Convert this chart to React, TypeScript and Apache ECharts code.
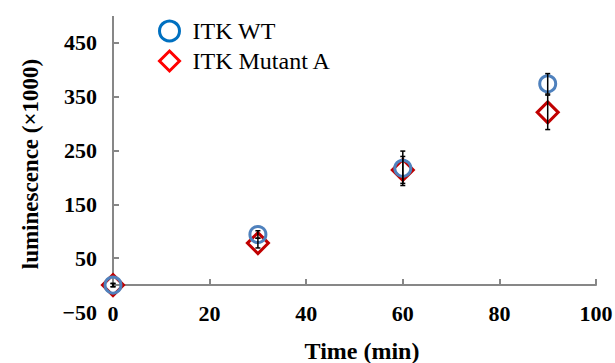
import React, { useEffect, useRef } from "react";
import * as echarts from "echarts";

const timeMin = [0, 30, 60, 90];
const wtMean = [0, 94, 217, 374];
const wtErr = [3, 7, 32, 19];
const mutMean = [0, 78, 214, 321];
const mutErr = [3, 9, 25, 32];
const yLabelValues = [-50, 50, 150, 250, 350, 450];
const yTickValues = [50, 150, 250, 350, 450];
const seriesNames = ["ITK WT", "ITK Mutant A"];

const AXIS = "#878787";
const FONT = "'Liberation Serif', 'Times New Roman', serif";

export default function App() {
  const ref = useRef<HTMLDivElement>(null);
  useEffect(() => {
    document.body.style.margin = "0";
    const chart = echarts.init(ref.current!, null, { renderer: "svg" });
    const wtData = timeMin.map((t, i) => [t, wtMean[i]]);
    const mutData = timeMin.map((t, i) => [t, mutMean[i]]);
    const errData = [
      ...timeMin.map((t, i) => [t, wtMean[i] - wtErr[i], wtMean[i] + wtErr[i]]),
      ...timeMin.map((t, i) => [t, mutMean[i] - mutErr[i], mutMean[i] + mutErr[i]]),
    ];
    chart.setOption({
      animation: false,
      textStyle: { fontFamily: FONT },
      grid: { left: 113, right: 19, top: 16, bottom: 51, containLabel: false, outerBoundsMode: "none" },
      legend: {
        orient: "vertical",
        left: 153,
        top: 14,
        itemWidth: 20,
        itemHeight: 20,
        itemGap: 6,
        textStyle: { fontFamily: FONT, fontSize: 24, color: "#000", padding: [0, 0, 0, 8] },
        data: [
          {
            name: seriesNames[0],
            icon: "circle",
            itemStyle: { color: "#fff", borderColor: "#0070C0", borderWidth: 3 },
          },
          {
            name: seriesNames[1],
            icon: "diamond",
            itemStyle: { color: "#fff", borderColor: "#FF0000", borderWidth: 3 },
          },
        ],
      },
      xAxis: {
        type: "value",
        min: 0,
        max: 100,
        interval: 20,
        name: "Time (min)",
        nameLocation: "middle",
        nameGap: 27,
        nameTextStyle: { fontFamily: FONT, fontSize: 24, fontWeight: "bold", color: "#000", padding: [0, 0, 0, 15] },
        axisLine: { onZero: true, lineStyle: { color: AXIS, width: 2 } },
        axisTick: { inside: true, length: 6, lineStyle: { color: AXIS, width: 2 } },
        axisLabel: { margin: -10, fontFamily: FONT, fontSize: 22, fontWeight: "bold", color: "#000" },
        splitLine: { show: false },
      },
      yAxis: {
        type: "value",
        min: -50,
        max: 500,
        name: "luminescence (×1000)",
        nameLocation: "middle",
        nameGap: 71,
        nameTextStyle: { fontFamily: FONT, fontSize: 23, fontWeight: "bold", color: "#000" },
        axisLine: { show: false },
        axisTick: { show: true, inside: true, length: 6, customValues: yTickValues, lineStyle: { color: AXIS, width: 2 } },
        axisLabel: {
          margin: 16,
          customValues: yLabelValues,
          fontFamily: FONT,
          fontSize: 22,
          fontWeight: "bold",
          color: "#000",
          formatter: (v: number) => (v < 0 ? "\u2212" + Math.abs(v) : String(v)),
        },
        splitLine: { show: false },
      },
      series: [
        {
          name: seriesNames[1],
          type: "scatter",
          data: mutData,
          symbol: "diamond",
          symbolSize: [21, 21],
          clip: false,
          itemStyle: { color: "rgba(0,0,0,0)", borderColor: "#C00000", borderWidth: 3, opacity: 1 },
          z: 3,
        },
        {
          name: seriesNames[0],
          type: "scatter",
          data: wtData,
          symbol: "circle",
          symbolSize: 16,
          clip: false,
          itemStyle: { color: "rgba(0,0,0,0)", borderColor: "#4F81BD", borderWidth: 3, opacity: 1 },
          z: 4,
          markLine: {
            silent: true,
            symbol: ["none", "none"],
            label: { show: false },
            lineStyle: { color: AXIS, width: 2, type: "solid" },
            data: [[{ coord: [0, 0] }, { coord: [0, 500] }]],
            z: 1,
          },
        },
        {
          name: "err",
          type: "custom",
          data: errData,
          clip: false,
          z: 5,
          renderItem: (params: any, api: any) => {
            const x = api.value(0);
            const lo = api.coord([x, api.value(1)]);
            const hi = api.coord([x, api.value(2)]);
            const w = 2.5;
            const style = { stroke: "#000", lineWidth: 1.5 };
            return {
              type: "group",
              children: [
                { type: "line", shape: { x1: hi[0], y1: hi[1], x2: lo[0], y2: lo[1] }, style },
                { type: "line", shape: { x1: hi[0] - w, y1: hi[1], x2: hi[0] + w, y2: hi[1] }, style },
                { type: "line", shape: { x1: lo[0] - w, y1: lo[1], x2: lo[0] + w, y2: lo[1] }, style },
              ],
            };
          },
        },
      ],
    });
    return () => chart.dispose();
  }, []);
  return <div ref={ref} style={{ width: 615, height: 363 }} />;
}
